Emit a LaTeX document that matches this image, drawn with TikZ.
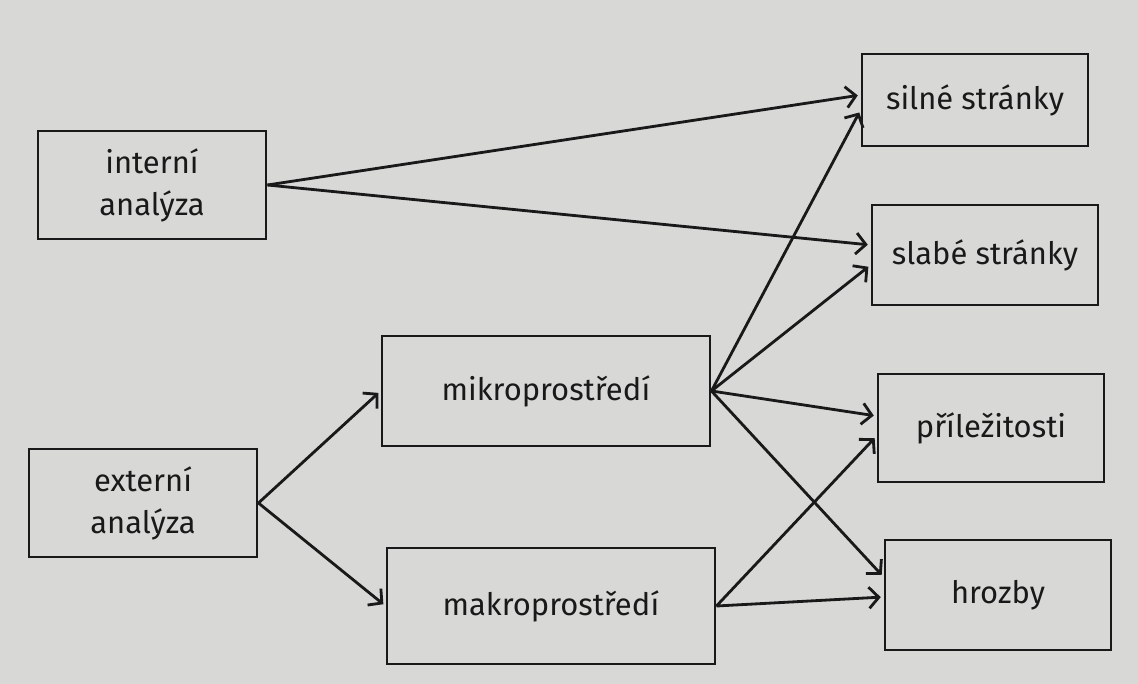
\documentclass[tikz,border=0pt]{standalone}
\usepackage{fontspec}
\setmainfont{Fira Sans}
\usetikzlibrary{arrows.meta}
\definecolor{paper}{RGB}{216,216,214}

\begin{document}
\begin{tikzpicture}[x=0.025cm, y=-0.025cm, ->, >={Straight Barb[length=7pt,width=15pt]}, shorten >=2pt, line width=2pt, draw=black!90]
    \tikzstyle{box}=[rectangle, draw=black!90, fill=paper, line width=2pt, inner sep=2pt, align=center, font=\fontsize{22}{30}\selectfont, text=black!90]
    \tikzstyle{source box}=[box, minimum width=5.7cm, minimum height=2.7cm]
    \tikzstyle{env box}=[box, minimum width=8.2cm, minimum height=2.75cm]
    \tikzstyle{swot box}=[box, minimum width=5.65cm, minimum height=2.5cm]

    % Background of the page
    \fill[paper] (0,0) rectangle (1138,684);
    \useasboundingbox (0,0) rectangle (1138,684);

    % Draw the analysis nodes
    \node[source box] (int) at (152,185) {interní\\analýza};
    \node[source box] (ext) at (143,503) {externí\\analýza};

    % Draw the environment nodes
    \node[env box] (mikro) at (546,391) {mikroprostředí};
    \node[env box, minimum height=2.9cm] (makro) at (551,606) {makroprostředí};

    % Draw the SWOT nodes
    \node[swot box, minimum height=2.3cm] (S) at (975,100) {silné stránky};
    \node[swot box] (W) at (985,255) {slabé stránky};
    \node[swot box, minimum height=2.7cm] (O) at (991,428) {příležitosti};
    \node[swot box, minimum height=2.75cm] (T) at (998,595) {hrozby};

    % Connect the internal analysis with strengths and weaknesses
    \draw (int.east) -- ([yshift=0.125cm]S.west);
    \draw (int.east) -- ([yshift=0.25cm]W.west);

    % Connect the external analysis with both environments
    \foreach \target in {mikro,makro}
        \draw (ext.east) -- (\target.west);

    % Connect the micro environment with every SWOT node
    \draw (mikro.east) -- ([yshift=-0.25cm]S.west);
    \draw (mikro.east) -- ([yshift=-0.25cm]W.west);
    \draw (mikro.east) -- ([yshift=0.3cm]O.west);
    \draw (mikro.east) -- ([yshift=0.45cm]T.west);

    % Connect the macro environment with opportunities and threats
    \draw (makro.east) -- ([yshift=-0.2cm]O.west);
    \draw (makro.east) -- ([yshift=-0.05cm]T.west);
\end{tikzpicture}
\end{document}
